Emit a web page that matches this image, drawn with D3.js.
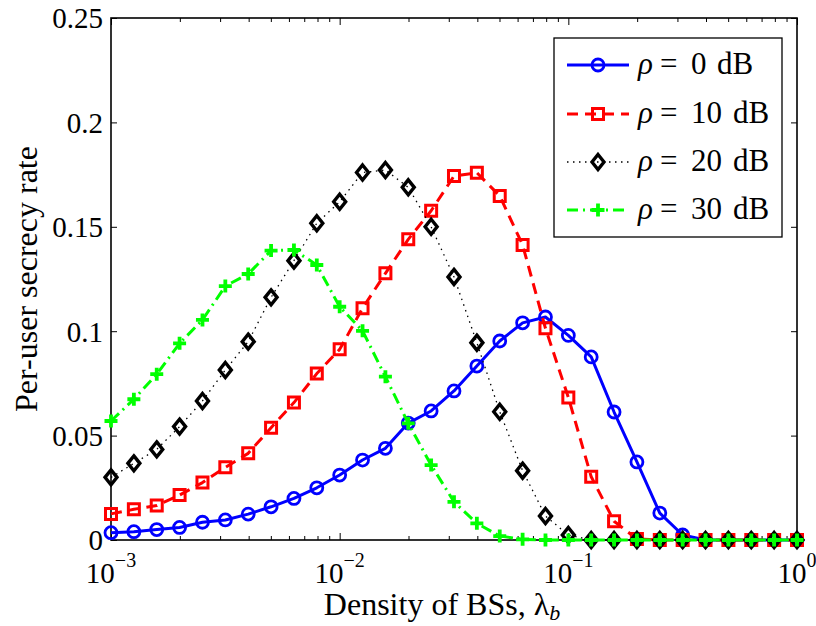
<!DOCTYPE html>
<html><head><meta charset="utf-8">
<script src="https://cdn.jsdelivr.net/npm/d3@7"></script>
<style>body{margin:0;background:#fff}svg{display:block}text{font-family:"Liberation Serif","DejaVu Serif",serif;fill:#000}</style>
</head><body><svg id="c" width="816" height="626"></svg>
<script>
const lambda = [0.001,0.001259,0.001585,0.001995,0.002512,0.003162,0.003981,0.005012,0.006310,0.007943,
  0.01,0.01259,0.01585,0.01995,0.02512,0.03162,0.03981,0.05012,0.06310,0.07943,
  0.1,0.1259,0.1585,0.1995,0.2512,0.3162,0.3981,0.5012,0.6310,0.7943,1];
const rho0 = [0.0035,0.004,0.005,0.006,0.0085,0.0096,0.0124,0.0159,0.0199,0.025,0.0311,0.0383,0.0439,0.056,0.0618,0.0714,0.0833,0.0953,0.104,0.1068,0.098,0.0877,0.0613,0.0374,0.0129,0.0024,0,0,0,0,0];
const rho10 = [0.0125,0.0147,0.0165,0.0215,0.0275,0.0348,0.0415,0.0538,0.0658,0.0797,0.0913,0.111,0.1277,0.144,0.1577,0.1743,0.1759,0.1648,0.1413,0.1014,0.0683,0.0303,0.009,0.0005,0,0,0,0,0,0,0];
const rho20 = [0.030,0.0367,0.0434,0.0543,0.0666,0.0814,0.095,0.1162,0.1338,0.1517,0.162,0.176,0.1772,0.1689,0.150,0.126,0.0945,0.0614,0.0332,0.0115,0.0024,0,0,0,0,0,0,0,0,0,0];
const rho30 = [0.057,0.0674,0.0794,0.0942,0.1054,0.1216,0.1274,0.1386,0.1389,0.1317,0.1117,0.1002,0.0782,0.0559,0.0359,0.0183,0.008,0.0019,0.0003,0,0,0,0,0,0,0,0,0,0,0,0];
const seriesNames = ["0","10","20","30"];
const yTicks = [0,0.05,0.1,0.15,0.2,0.25];
const yTickLabels = ["0","0.05","0.1","0.15","0.2","0.25"];
const xTicks = [0.001,0.01,0.1,1];
const xTickExp = ["\u22123","\u22122","\u22121","0"];

const svg = d3.select("#c");
const L=111,R=797,T=18,B=540;
const x = d3.scaleLog().domain([0.001,1]).range([L,R]);
const y = d3.scaleLinear().domain([0,0.25]).range([B,T]);

const styles = [
  {data:rho0, color:"#0000ff", width:3, dash:null, marker:"circle"},
  {data:rho10, color:"#ff0000", width:3, dash:"11,7", marker:"square"},
  {data:rho20, color:"#000000", width:1.3, dash:"1.5,4.5", marker:"diamond"},
  {data:rho30, color:"#00ff00", width:3, dash:"11,5,2,5", marker:"plus"}
];
const markerPath = {
  circle: "M6,0A6,6 0 1,1 -6,0A6,6 0 1,1 6,0Z",
  square: "M-5.5,-5.5H5.5V5.5H-5.5Z",
  diamond: "M0,-7.5L6,0L0,7.5L-6,0Z",
  plus: "M-6.5,0H6.5M0,-6.5V6.5"
};
const markerStroke = {circle:2.8, square:3, diamond:3.4, plus:3.8};

const ax = svg.append("g");
const minor = [];
for (const d of [0.001,0.01,0.1]) for (let k=2;k<=9;k++) minor.push(d*k);
const yAxisL = d3.axisRight(y).tickValues(yTicks).tickSize(6).tickFormat("");
const yAxisR = d3.axisLeft(y).tickValues(yTicks).tickSize(6).tickFormat("");
const xAxisB = d3.axisTop(x).tickValues(xTicks).tickSize(7).tickFormat("");
const xAxisT = d3.axisBottom(x).tickValues(xTicks).tickSize(7).tickFormat("");
const xMinB = d3.axisTop(x).tickValues(minor).tickSize(4).tickFormat("");
const xMinT = d3.axisBottom(x).tickValues(minor).tickSize(4).tickFormat("");
[[yAxisL,`translate(${L},0)`],[yAxisR,`translate(${R},0)`],[xAxisB,`translate(0,${B})`],[xAxisT,`translate(0,${T})`],[xMinB,`translate(0,${B})`],[xMinT,`translate(0,${T})`]].forEach(([a,t])=>{
  const g = ax.append("g").attr("transform",t).call(a);
  g.select(".domain").remove();
  g.selectAll("line").attr("stroke","#000").attr("stroke-width",1);
});
ax.append("rect").attr("x",L).attr("y",T).attr("width",R-L).attr("height",B-T)
  .attr("fill","none").attr("stroke","#000").attr("stroke-width",1.6);

svg.append("g").selectAll("text").data(yTicks).join("text")
  .attr("x",103).attr("y",d=>y(d)).attr("dy","0.36em").attr("text-anchor","end")
  .attr("font-size",29).text((d,i)=>yTickLabels[i]);
const xl = svg.append("g").selectAll("text").data(xTicks).join("text")
  .attr("x",d=>x(d)).attr("y",583).attr("text-anchor","middle").attr("font-size",29);
xl.append("tspan").text("10");
xl.append("tspan").attr("dy",-16).attr("font-size",20).text((d,i)=>xTickExp[i]);

const xt = svg.append("text").attr("x",442).attr("y",615).attr("text-anchor","middle").attr("font-size",32);
xt.append("tspan").text("Density of BSs, \u03bb");
xt.append("tspan").attr("dy",5).attr("font-size",22).attr("font-style","italic").text("b");
svg.append("text").attr("transform","translate(37,279) rotate(-90)").attr("text-anchor","middle")
  .attr("font-size",32).text("Per-user secrecy rate");

const plot = svg.append("g");
styles.forEach(s=>{
  const pts = lambda.map((l,i)=>[x(l), y(s.data[i])]);
  plot.append("path").attr("d",d3.line()(pts)).attr("fill","none")
    .attr("stroke",s.color).attr("stroke-width",s.width).attr("stroke-dasharray",s.dash)
    .attr("stroke-linejoin","round");
  plot.append("g").selectAll("path").data(pts).join("path")
    .attr("transform",d=>`translate(${d[0]},${d[1]})`).attr("d",markerPath[s.marker])
    .attr("fill","none").attr("stroke",s.color).attr("stroke-width",markerStroke[s.marker]);
});

const lg = svg.append("g");
lg.append("rect").attr("x",554).attr("y",38).attr("width",228).attr("height",199)
  .attr("fill","#fff").attr("stroke","#000").attr("stroke-width",1.3);
const rows = [65,114,162,210];
styles.forEach((s,i)=>{
  const yy = rows[i];
  lg.append("line").attr("x1",567).attr("x2",629).attr("y1",yy).attr("y2",yy)
    .attr("stroke",s.color).attr("stroke-width",s.width).attr("stroke-dasharray",s.dash);
  lg.append("path").attr("transform",`translate(598,${yy})`).attr("d",markerPath[s.marker])
    .attr("fill", "none").attr("stroke",s.color).attr("stroke-width",markerStroke[s.marker]);
  const t = lg.append("text").attr("y",yy+9).attr("font-size",31);
  t.append("tspan").attr("x",638).attr("font-style","italic").text("\u03c1");
  t.append("tspan").attr("x",660).text("=");
  t.append("tspan").attr("x",691).text(seriesNames[i]);
  t.append("tspan").attr("x",seriesNames[i].length>1?733:717).text("dB");
});
</script></body></html>
